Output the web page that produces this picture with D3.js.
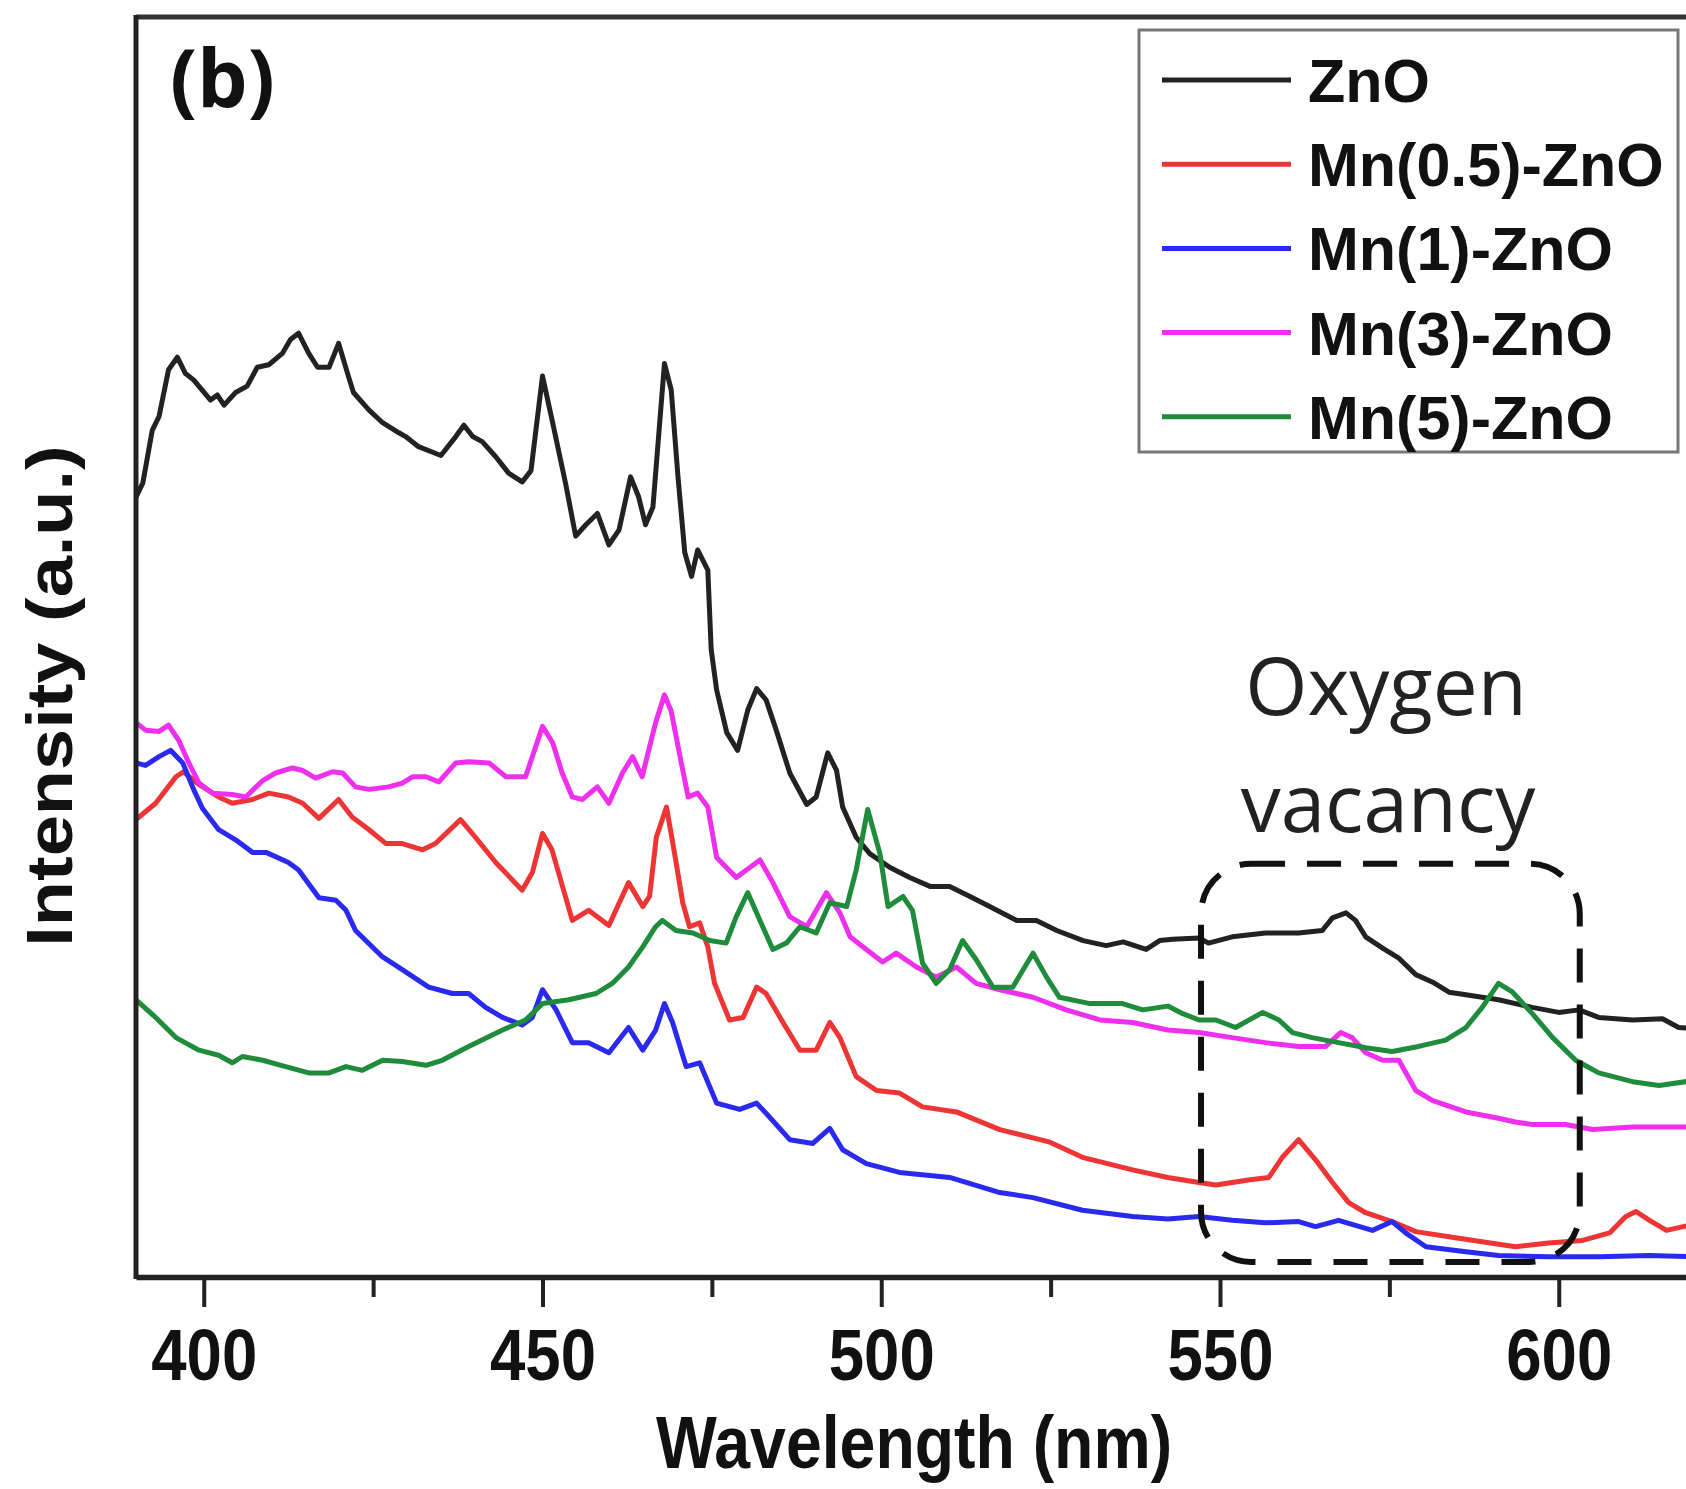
<!DOCTYPE html>
<html>
<head>
<meta charset="utf-8">
<script src="https://cdn.jsdelivr.net/npm/d3@7"></script>
<style>
  body { margin: 0; background: #fff; }
</style>
</head>
<body>
<div id="container"></div>
<script>
/* DATA (wavelength nm, intensity a.u.) */
const majorTicks = [400, 450, 500, 550, 600];
const minorTicks = [425, 475, 525, 575];
const legendLabels = ["ZnO", "Mn(0.5)-ZnO", "Mn(1)-ZnO", "Mn(3)-ZnO", "Mn(5)-ZnO"];

const zno = [[390,61.9],[391,63],[392.4,67.2],[393.4,68.3],[394.8,72],[396.1,73],[397.3,71.7],[398.5,71.2],[401,69.6],[402,70],[403,69.2],[404.7,70.2],[406.4,70.7],[407.9,72.2],[409.6,72.4],[411.6,73.3],[412.8,74.4],[414,74.9],[415.5,73.3],[416.8,72.2],[418.5,72.2],[419.9,74.1],[421.4,71.4],[422.1,70.2],[424.4,68.8],[426.4,67.8],[428.8,67],[429.8,66.7],[431.7,65.9],[435,65.2],[437.2,66.7],[438.4,67.6],[439.7,66.7],[441.1,66.3],[443.1,65.1],[445,63.8],[447,63.1],[448.3,64],[450,71.5],[451.5,67.8],[453.4,63],[454.9,58.8],[456.4,59.7],[458.1,60.6],[459.8,58.1],[461.3,59.3],[463,63.5],[464.2,61.9],[465.2,59.7],[466.3,61.1],[468,72.5],[469,70.4],[470,63.5],[471,57.5],[472,55.6],[472.9,57.7],[474.4,56.1],[474.9,49.8],[475.7,46.6],[477.2,43.2],[478.8,41.8],[480.3,45],[481.6,46.7],[483,45.8],[484.5,43.4],[486.5,40],[489,37.5],[490.4,38.1],[492.1,41.6],[493.4,40.2],[494.3,37.3],[496.3,34.9],[498.3,33.6],[501.3,32.5],[504.2,31.7],[507.2,31],[510.1,31],[513.1,30.2],[516,29.4],[520,28.3],[522.9,28.3],[525.9,27.5],[529.8,26.7],[533.2,26.3],[535.7,26.6],[539.1,26],[541.1,26.7],[543,26.8],[546.9,26.9],[548.3,26.5],[551.8,27],[556.7,27.3],[561.6,27.3],[565.1,27.5],[566.6,28.5],[568.6,28.9],[570,28.3],[571.5,27],[574,26.1],[576.4,25.3],[578.9,24],[581.4,23.4],[583.8,22.6],[586.3,22.4],[588.7,22.2],[591.1,22],[596.1,21.4],[600,21],[603,21.2],[605.9,20.6],[610.9,20.4],[615.3,20.5],[617.7,19.8],[620,19.7]];

const mn05 = [[390,36.3],[392.9,37.6],[395.9,39.7],[397,40.1],[399,39.2],[402.2,38.1],[404.2,37.6],[407.2,37.9],[409.6,38.4],[412.5,38.1],[414.6,37.6],[417,36.4],[419.9,37.9],[421.9,36.5],[424.4,35.5],[426.9,34.4],[429.3,34.4],[432.3,33.9],[434.2,34.4],[437.9,36.3],[440.1,34.9],[443.1,32.9],[447,30.7],[448.5,32.1],[450,35.2],[451.4,33.9],[454.4,28.3],[456.8,29.1],[459.8,27.9],[462.7,31.3],[464.8,29.4],[465.8,30.2],[466.8,34.9],[468.3,37.3],[469.5,33.6],[470.7,29.7],[471.7,27.8],[473.2,28.1],[474.4,26.2],[475.4,23.3],[477.6,20.4],[479.6,20.6],[481.6,23],[483,22.5],[485.5,20.2],[488,18],[490.4,18],[492.4,20.2],[493.9,19],[496.3,15.9],[499.3,14.8],[502.7,14.6],[506.1,13.5],[511.1,13.1],[517.5,11.7],[524.9,10.7],[529.7,9.5],[537.1,8.5],[542.3,7.9],[546.9,7.5],[549.4,7.3],[554.2,7.7],[557.2,7.9],[559.2,9.5],[561.6,10.9],[564.1,9.3],[566.6,7.5],[569,5.9],[571.5,5.1],[575.4,4.4],[578.9,3.6],[583.8,3.2],[588.7,2.8],[593.6,2.4],[598.5,2.7],[603.5,2.9],[607.5,3.5],[609.9,4.8],[611.4,5.2],[613.4,4.5],[615.9,3.7],[620,4.2]];

const mn1 = [[390,40.8],[391.4,40.6],[393.4,41.3],[395.1,41.8],[396.9,40.8],[398.5,38.7],[399.8,37.2],[402.2,35.5],[404.7,34.7],[407.2,33.7],[409.2,33.7],[412.5,32.9],[414,32.3],[417,30.1],[419.5,29.9],[421,29.1],[422.4,27.5],[426.4,25.4],[429.3,24.4],[433.2,23],[436.7,22.5],[439.1,22.5],[441.6,21.4],[444.1,20.6],[447,20],[448.5,20.6],[450,22.8],[452,21.2],[454.4,18.6],[456.8,18.6],[459.8,17.8],[462.7,19.8],[464.8,18],[466.7,19.6],[468,21.7],[469.2,20.2],[471.2,16.7],[473.2,17],[475.7,13.8],[479.1,13.3],[481.6,13.8],[483.5,12.7],[486.5,10.9],[489.9,10.6],[492.4,11.8],[494.3,10.1],[497.8,9],[502.7,8.3],[510.1,7.9],[517.5,6.7],[522.4,6.3],[529.7,5.3],[537.1,4.8],[542.3,4.6],[546.9,4.8],[551.8,4.5],[556.7,4.3],[561.6,4.4],[564.1,4],[567.5,4.5],[572.5,3.7],[575.4,4.4],[577.4,3.5],[580.4,2.4],[586.3,2],[591.1,1.7],[598.5,1.6],[605.9,1.6],[613.3,1.7],[620,1.6]];

const mn3 = [[390,44],[391.4,43.4],[393.4,43.3],[394.8,43.8],[396.3,42.6],[397.8,40.8],[399.3,39.2],[401.3,38.4],[404.2,38.3],[406.2,38.1],[408.7,39.4],[410.6,40],[413.1,40.4],[414.6,40.2],[416.5,39.6],[419,40.1],[420.5,40],[422.4,38.9],[424.4,38.7],[427.3,38.9],[429.3,39.2],[430.8,39.7],[432.8,39.7],[434.7,39.3],[437.2,40.8],[439.1,40.9],[442.1,40.8],[444.6,39.7],[447.5,39.7],[450,43.7],[451.5,42.4],[452.9,40],[454.4,38.1],[455.9,37.9],[458.1,38.9],[459.8,37.6],[461.8,40],[463.3,41.3],[464.7,39.7],[466.7,44],[468,46.2],[469,44.9],[470.3,41.3],[471.5,38.1],[472.9,38.4],[474.4,37.3],[475.7,33.3],[478.6,31.7],[482.1,33.1],[484,31.3],[486.5,28.6],[489,27.8],[491.9,30.5],[493.9,28.9],[495.4,27],[497.8,26],[500.2,25],[502.2,25.7],[505.2,24.6],[508.1,23.8],[511.1,24.6],[514,23.3],[517.5,22.8],[522.4,22.2],[527.3,21.2],[532.3,20.4],[537.1,20.2],[542.3,19.6],[546.9,19.4],[551.8,19],[556.7,18.6],[561.6,18.3],[565.6,18.3],[567.8,19.4],[569.5,19],[571.5,17.8],[574,17.2],[576.4,17.2],[578.9,14.8],[581.4,14],[586.3,13.1],[591.1,12.6],[593.6,12.3],[596.1,12.1],[601,12.1],[605,11.7],[610.9,11.9],[620,11.9]];

const mn5 = [[390,22],[392.9,20.6],[395.9,19],[399.3,18],[402.2,17.6],[404.2,17],[405.7,17.5],[408.7,17.2],[412.1,16.7],[415.5,16.2],[418.5,16.2],[421,16.7],[423.4,16.4],[426.4,17.2],[429.3,17.1],[432.8,16.8],[435.2,17.2],[439.1,18.3],[444.1,19.6],[447.5,20.4],[450,21.7],[453.9,22],[457.9,22.5],[460.3,23.3],[462.7,24.6],[464.8,26.2],[466.7,27.8],[467.7,28.3],[469.7,27.5],[472.2,27.3],[474.7,26.7],[477.1,26.5],[478.6,28.6],[480.3,30.5],[482.1,28.3],[484,26],[486,26.5],[488,27.8],[490.4,27.3],[492.4,29.7],[494.9,29.4],[496.3,32.3],[498,37.1],[499.8,33.6],[501,29.4],[503.2,30.2],[504.6,29.1],[506.1,24.9],[508.1,23.3],[510.1,24.4],[512,26.7],[514,25.2],[516.5,23],[519.4,23],[522.4,25.7],[524.4,23.8],[526.3,22.2],[530.8,21.7],[535.6,21.7],[538.6,21.2],[542.3,21.5],[544.5,20.9],[546.9,20.4],[549.4,20.4],[552.3,19.8],[556.3,21],[558.7,20.4],[560.7,19.4],[563.6,19],[567.5,18.6],[571.5,18.2],[575.4,17.9],[579.3,18.3],[583.3,18.8],[586.3,19.8],[588.7,21.4],[591.1,23.3],[593.2,22.6],[596.1,20.9],[599.1,19],[602.5,17.2],[605.9,16.2],[610.9,15.5],[614.8,15.2],[620,15.6]];

// oxygen vacancy region, data units
const vacancyX = [547.2, 603.1];
const vacancyY = [1.2, 32.8];

/* CONSTANTS */
const width = 1686, height = 1489,
  margin = {top: 17, bottom: 212, left: 136};
const squish = 0.87; // figure text is a bit narrow
const colors = ["#222222", "#ee3535", "#2a2aee", "#ee30ee", "#1e8c3a"];
const series = [zno, mn05, mn1, mn3, mn5];

// Scales
const xScale = d3.scaleLinear()
  .domain([390, 650])
  .range([margin.left, margin.left + 260 * 6.775]);

const yScale = d3.scaleLinear()
  .domain([0, 100])
  .range([height - margin.bottom, margin.top]);

// SVG
const svg = d3.select("#container")
  .append("svg")
  .attr("width", width)
  .attr("height", height)
  .style("font-family", "'Liberation Sans', Arial, sans-serif");

svg.append("clipPath").attr("id", "plotClip")
  .append("rect")
  .attr("x", xScale(390)).attr("y", yScale(100))
  .attr("width", xScale(650) - xScale(390))
  .attr("height", yScale(0) - yScale(100));

// Lines
const lineGen = d3.line()
  .x(d => xScale(d[0]))
  .y(d => yScale(d[1]));

svg.append("g")
  .attr("clip-path", "url(#plotClip)")
  .selectAll("path")
  .data(series)
  .join("path")
  .attr("fill", "none")
  .attr("stroke", (d, i) => colors[i])
  .attr("stroke-width", 5)
  .attr("stroke-linejoin", "round")
  .attr("d", lineGen);

// Dashed box
svg.append("rect")
  .attr("x", xScale(vacancyX[0]))
  .attr("y", yScale(vacancyY[1]))
  .attr("width", xScale(vacancyX[1]) - xScale(vacancyX[0]))
  .attr("height", yScale(vacancyY[0]) - yScale(vacancyY[1]))
  .attr("rx", 50)
  .attr("fill", "none")
  .attr("stroke", "#111")
  .attr("stroke-width", 6)
  .attr("stroke-dasharray", "34 22");

svg.append("text")
  .attr("x", 1386).attr("y", 715)
  .attr("text-anchor", "middle")
  .style("font-family", "'Open Sans', sans-serif")
  .style("font-size", "80px")
  .style("fill", "#222")
  .text("Oxygen");
svg.append("text")
  .attr("x", 1388).attr("y", 832)
  .attr("text-anchor", "middle")
  .style("font-family", "'Open Sans', sans-serif")
  .style("font-size", "80px")
  .style("fill", "#222")
  .text("vacancy");

// Frame
svg.append("line")
  .attr("x1", xScale(390)).attr("x2", xScale(650))
  .attr("y1", yScale(100)).attr("y2", yScale(100))
  .attr("stroke", "#333").attr("stroke-width", 5);
svg.append("line")
  .attr("x1", xScale(390)).attr("x2", xScale(390))
  .attr("y1", yScale(100) - 2).attr("y2", yScale(0) + 2)
  .attr("stroke", "#222").attr("stroke-width", 5);

// Axis
const xAxis = d3.axisBottom(xScale)
  .tickValues(majorTicks)
  .tickSize(30)
  .tickSizeOuter(0)
  .tickPadding(21);
const xg = svg.append("g")
  .attr("transform", `translate(0, ${yScale(0)})`)
  .call(xAxis);
xg.select(".domain").attr("stroke", "#222").attr("stroke-width", 5.5);
xg.selectAll(".tick line").attr("stroke", "#222").attr("stroke-width", 4);
xg.selectAll(".tick text")
  .attr("transform", `scale(${squish},1)`)
  .style("font-size", "73px")
  .style("font-weight", "bold")
  .style("fill", "#111");

svg.append("g")
  .attr("transform", `translate(0, ${yScale(0)})`)
  .call(d3.axisBottom(xScale).tickValues(minorTicks).tickSize(20).tickFormat(""))
  .call(g => g.select(".domain").remove())
  .selectAll(".tick line").attr("stroke", "#222").attr("stroke-width", 4);

//X Label
svg.append("text")
  .attr("transform", `translate(914, 1468) scale(${squish},1)`)
  .attr("text-anchor", "middle")
  .style("font-size", "74px")
  .style("font-weight", "bold")
  .style("fill", "#111")
  .text("Wavelength (nm)");

//Y Label
svg.append("text")
  .attr("transform", `translate(72, 696) scale(${squish},1) rotate(-90)`)
  .attr("text-anchor", "middle")
  .style("font-size", "74px")
  .style("font-weight", "bold")
  .style("fill", "#111")
  .text("Intensity (a.u.)");

// panel label
svg.append("text")
  .attr("x", 170).attr("y", 107)
  .style("font-family", "'Open Sans', sans-serif")
  .style("font-size", "80px")
  .style("font-weight", "bold")
  .style("fill", "#111")
  .text("(b)");

// Legend
const legend = svg.append("g");
legend.append("rect")
  .attr("x", 1139).attr("y", 30)
  .attr("width", 539).attr("height", 422)
  .attr("fill", "#fff")
  .attr("stroke", "#777")
  .attr("stroke-width", 3);

const items = legend.selectAll("g.item")
  .data(legendLabels)
  .join("g")
  .attr("class", "item")
  .attr("transform", (d, i) => `translate(0, ${80 + i * 84.2})`);
items.append("line")
  .attr("x1", 1162).attr("x2", 1291)
  .attr("stroke", (d, i) => colors[i])
  .attr("stroke-width", 5);
items.append("text")
  .attr("x", 1308).attr("y", 22)
  .style("font-size", "61px")
  .style("font-weight", "bold")
  .style("fill", "#111")
  .text(d => d);
</script>
</body>
</html>
